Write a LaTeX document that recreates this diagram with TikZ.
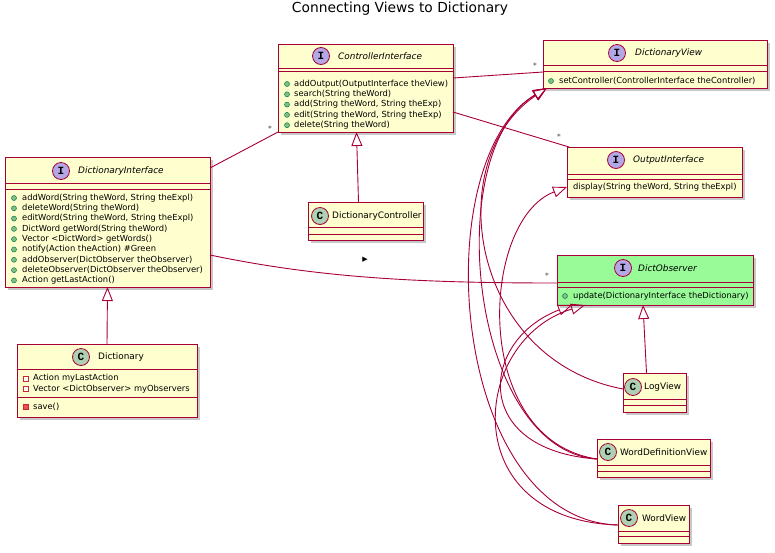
\documentclass[tikz,border=0pt]{standalone}
\usepackage{fontspec}
\setmainfont{DejaVu Sans}
\newfontfamily\icofont{Liberation Mono}
\usetikzlibrary{arrows.meta,shadows}
\definecolor{pborder}{HTML}{A80036}
\definecolor{pfill}{HTML}{FEFECE}
\definecolor{pgreen}{HTML}{98FB98}
\definecolor{ifill}{HTML}{B4A7E5}
\definecolor{cfill}{HTML}{ADD1B2}
\definecolor{mfill}{HTML}{84BE84}
\definecolor{mline}{HTML}{038048}
\definecolor{rline}{HTML}{C82930}
\definecolor{rfill}{HTML}{F24D5C}
\tikzset{
 ubox/.style={draw=pborder, line width=1pt, rectangle, inner sep=0pt, outer sep=0pt,
   drop shadow={shadow xshift=3pt, shadow yshift=-3pt, opacity=0.3, fill=black!70}},
 uline/.style={draw=pborder, line width=1pt},
 ico/.style={circle, draw=pborder, line width=0.8pt, minimum size=17pt, inner sep=0pt,
   font=\icofont\bfseries\fontsize{11}{11}\selectfont},
 hname/.style={anchor=west, inner sep=0pt, font=\fontsize{8.9}{10}\selectfont},
 mem/.style={anchor=west, inner sep=0pt, font=\fontsize{8.35}{9}\selectfont, text=black},
 pub/.style={circle, fill=mfill, draw=mline, line width=0.5pt, minimum size=5pt, inner sep=0pt},
 privf/.style={rectangle, draw=rline, line width=0.6pt, fill=white, minimum size=5pt, inner sep=0pt},
 privm/.style={rectangle, draw=rline, fill=rfill, line width=0.6pt, minimum size=5pt, inner sep=0pt},
 conn/.style={draw=pborder, line width=0.9pt},
 ext/.style={conn, -{Triangle[open, length=14pt, width=11pt]}},
 mult/.style={inner sep=0pt, text=black!75, font=\fontsize{7.5}{8}\selectfont},
}
% name x1 y1 x2 y2 fill l1 l2
\newcommand\ubox[8]{%
 \node[ubox, fill=#6, minimum width={(#4-#2)*1pt}, minimum height={(#5-#3)*1pt}] (#1) at ({(#2+#4)/2},{(#3+#5)/2}) {};
 \draw[uline] (#2,#7) -- (#4,#7);
 \draw[uline] (#2,#8) -- (#4,#8);}
% name letter fill cx cy tx text
\newcommand\uhead[7]{%
 \node[ico, fill=#3] (#1-ico) at (#4,#5) {#2};
 \node[hname] (#1-name) at (#6,#5) {#7};}
% name style bx tx y text
\newcommand\umem[6]{%
 \node[#2] (#1-b) at (#3,#5) {};
 \node[mem] (#1) at (#4,#5) {#6};}
\begin{document}
\begin{tikzpicture}[x=1pt,y=-1pt]
\useasboundingbox[fill=white] (0,0) rectangle (775,552);
\node[font=\fontsize{13.8}{15}\selectfont, inner sep=0pt] (title) at (400,9) {Connecting Views to Dictionary};

% ControllerInterface
\ubox{CI}{278}{44}{453}{132}{pfill}{68}{71}
\uhead{CI}{I}{ifill}{321}{56}{338}{\textit{ControllerInterface}}
\umem{ci1}{pub}{287}{294}{84}{addOutput(OutputInterface theView)}
\umem{ci2}{pub}{287}{294}{94.3}{search(String theWord)}
\umem{ci3}{pub}{287}{294}{104.6}{add(String theWord, String theExp)}
\umem{ci4}{pub}{287}{294}{114.9}{edit(String theWord, String theExp)}
\umem{ci5}{pub}{287}{294}{125.2}{delete(String theWord)}

% DictionaryView
\ubox{DV}{543}{40}{767}{88}{pfill}{65}{71.5}
\uhead{DV}{I}{ifill}{617}{53}{635}{\textit{DictionaryView}}
\umem{dv1}{pub}{551}{559}{81}{setController(ControllerInterface theController)}

% OutputInterface
\ubox{OI}{567}{147}{742}{197}{pfill}{174}{179}
\uhead{OI}{I}{ifill}{616}{160}{633}{\textit{OutputInterface}}
\node[mem] (oi1) at (573,187.5) {display(String theWord, String theExpl)};

% DictionaryInterface
\ubox{DictI}{5}{157}{210}{287}{pfill}{183}{189}
\uhead{DictI}{I}{ifill}{61}{171}{78}{\textit{DictionaryInterface}}
\umem{di1}{pub}{14}{22}{198}{addWord(String theWord, String theExpl)}
\umem{di2}{pub}{14}{22}{208.3}{deleteWord(String theWord)}
\umem{di3}{pub}{14}{22}{218.6}{editWord(String theWord, String theExpl)}
\umem{di4}{pub}{14}{22}{228.9}{DictWord getWord(String theWord)}
\umem{di5}{pub}{14}{22}{239.2}{Vector <DictWord> getWords()}
\umem{di6}{pub}{14}{22}{249.5}{notify(Action theAction) \#Green}
\umem{di7}{pub}{14}{22}{259.8}{addObserver(DictObserver theObserver)}
\umem{di8}{pub}{14}{22}{270.1}{deleteObserver(DictObserver theObserver)}
\umem{di9}{pub}{14}{22}{280.4}{Action getLastAction()}

% Dictionary
\ubox{Dict}{17}{344}{197}{417}{pfill}{369}{397}
\uhead{Dict}{C}{cfill}{81}{357}{98}{Dictionary}
\umem{d1}{privf}{26}{33}{378.5}{Action myLastAction}
\umem{d2}{privf}{26}{33}{389}{Vector <DictObserver> myObservers}
\umem{d3}{privm}{26}{33}{406.5}{save()}

% DictionaryController
\ubox{DC}{308}{202}{423}{240}{pfill}{227}{234}
\uhead{DC}{C}{cfill}{320}{216}{332}{DictionaryController}

% DictObserver
\ubox{DO}{557}{255}{753}{305}{pgreen}{282}{287}
\uhead{DO}{I}{ifill}{623}{268}{638}{\textit{DictObserver}}
\umem{do1}{pub}{565}{573}{296}{update(DictionaryInterface theDictionary)}

% LogView
\ubox{LV}{623}{373}{686}{412}{pfill}{399}{405}
\uhead{LV}{C}{cfill}{633}{387}{644}{LogView}

% WordDefinitionView
\ubox{WDV}{597}{439}{710}{477}{pfill}{465}{471}
\uhead{WDV}{C}{cfill}{608}{452}{620}{WordDefinitionView}

% WordView
\ubox{WV}{618}{505}{689}{543}{pfill}{531}{536}
\uhead{WV}{C}{cfill}{629}{518}{642}{WordView}

% associations
\draw[conn] ([yshift=-11pt]DictI.north east) -- (CI.south west);
\node[mult] (m1) at (270,129) {*};
\draw[conn] ([yshift=-34pt]CI.north east) -- ([yshift=-32pt]DV.north west);
\node[mult] (m2) at (535,66) {*};
\draw[conn] ([yshift=-68pt]CI.north east) -- ([xshift=2pt]OI.north west);
\node[mult] (m3) at (559,137) {*};
\draw[conn] ([yshift=-98pt]DictI.north east) .. controls (320,278) and (420,283) .. ([yshift=-28pt]DO.north west);
\node[mult] (m4) at (547,276) {*};
\node[inner sep=0pt, font=\fontsize{7}{7}\selectfont] (dir) at (365,260) {▶};

% generalizations
\draw[ext] (Dict.north) -- (DictI.south);
\draw[ext] ([xshift=-7pt]DC.north) -- ([xshift=-9pt]CI.south);
\draw[ext] ([xshift=-8pt]LV.north) -- ([xshift=-12pt]DO.south);

\draw[ext] ([yshift=-16pt]LV.north west) .. controls (470,360) and (440,160) .. ([xshift=4pt]DV.south west);
\draw[ext] ([yshift=-20pt]WDV.north west) .. controls (470,450) and (440,150) .. ([xshift=4pt]DV.south west);
\draw[ext] ([yshift=-20pt]WV.north west) .. controls (450,520) and (425,160) .. ([xshift=4pt]DV.south west);
\draw[ext] ([yshift=-20pt]WDV.north west) .. controls (470,440) and (480,220) .. ([yshift=-40pt]OI.north west);
\draw[ext] ([yshift=-20pt]WDV.north west) .. controls (470,450) and (480,340) .. ([xshift=15pt]DO.south west);
\draw[ext] ([yshift=-20pt]WV.north west) .. controls (455,520) and (470,340) .. ([xshift=28pt]DO.south west);
\end{tikzpicture}
\end{document}
